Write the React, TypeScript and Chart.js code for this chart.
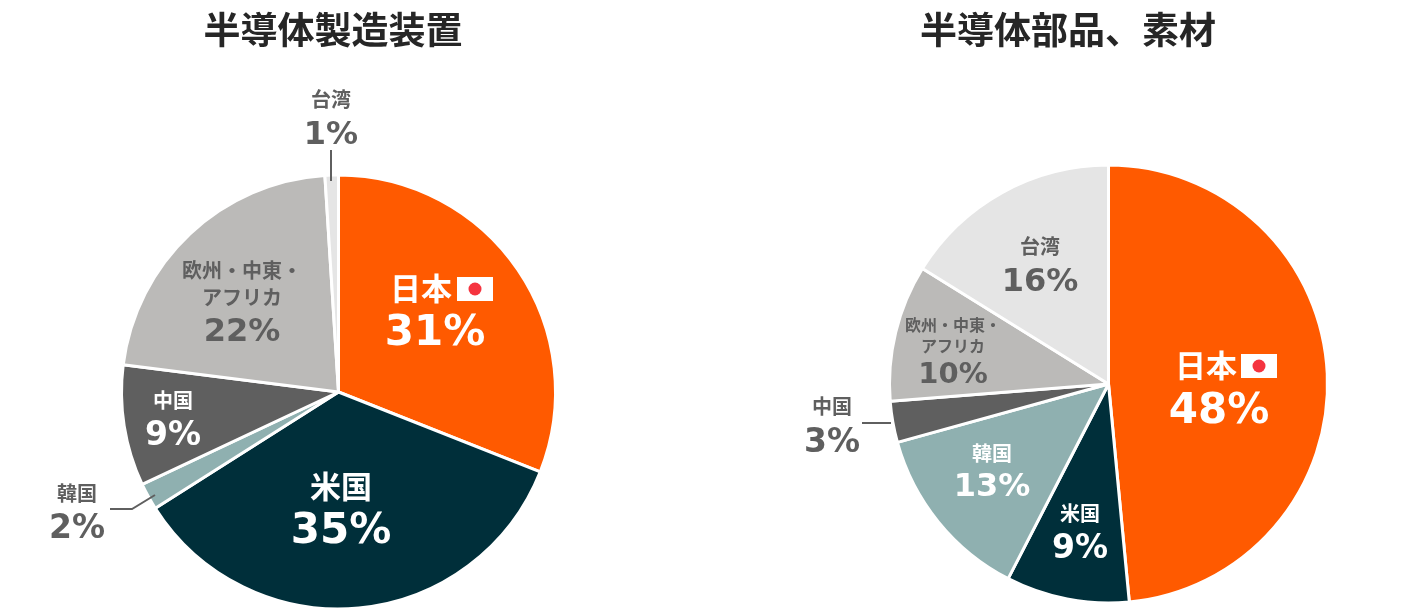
import React, { useEffect, useRef } from "react";
import { Chart, registerables } from "chart.js";

Chart.register(...registerables);

const categories = ["日本", "米国", "韓国", "中国", "欧州・中東・アフリカ", "台湾"];
const equipmentValues = [31, 35, 2, 9, 22, 1];
const materialsValues = [48, 9, 13, 3, 10, 16];
const sliceColors = ["#FF5A00", "#002F3A", "#8FB0B0", "#5F5F5F", "#BBBAB8", "#E5E5E5"];

const WHITE = "#FFFFFF";
const GREY = "#5F5F5F";
const CJK = '"Noto Sans CJK JP"';
const NUM = '"DejaVu Sans"';

type Label = { lines: string[]; cx: number; ys: number[]; size: number; pct: string; py: number; psize: number; color: string; px?: number };

const leftLabels: Label[] = [
  { lines: ["日本"], cx: 421, ys: [288], size: 31, pct: "31%", px: 435, py: 334, psize: 42, color: WHITE },
  { lines: ["米国"], cx: 341, ys: [486], size: 31, pct: "35%", py: 532, psize: 42, color: WHITE },
  { lines: ["中国"], cx: 173, ys: [400], size: 20, pct: "9%", py: 436, psize: 33, color: WHITE },
  { lines: ["韓国"], cx: 77, ys: [493], size: 20, pct: "2%", py: 529, psize: 33, color: GREY },
  { lines: ["欧州・中東・", "アフリカ"], cx: 242, ys: [270, 297], size: 20, pct: "22%", py: 333, psize: 32, color: GREY },
  { lines: ["台湾"], cx: 331, ys: [99], size: 20, pct: "1%", py: 136, psize: 32, color: GREY },
];
const rightLabels: Label[] = [
  { lines: ["日本"], cx: 1206, ys: [365], size: 31, pct: "48%", px: 1219, py: 412, psize: 42, color: WHITE },
  { lines: ["米国"], cx: 1080, ys: [513], size: 20, pct: "9%", py: 549, psize: 33, color: WHITE },
  { lines: ["韓国"], cx: 992, ys: [453], size: 20, pct: "13%", py: 488, psize: 32, color: WHITE },
  { lines: ["中国"], cx: 832, ys: [406], size: 20, pct: "3%", py: 443, psize: 33, color: GREY },
  { lines: ["欧州・中東・", "アフリカ"], cx: 953, ys: [325, 346], size: 16, pct: "10%", py: 375, psize: 29, color: GREY },
  { lines: ["台湾"], cx: 1040, ys: [246], size: 20, pct: "16%", py: 283, psize: 32, color: GREY },
];

type Pie = {
  title: string; titleX: number; values: number[]; labels: Label[]; offset: number; width: number;
  padding: { left: number; right: number; top: number; bottom: number };
  flag: { x: number; y: number };
  leaders: number[][][];
};

const pies: Pie[] = [
  {
    title: "半導体製造装置", titleX: 333, values: equipmentValues, labels: leftLabels, offset: 0, width: 701,
    padding: { left: 120, right: 144, top: 173, bottom: 2 },
    flag: { x: 457, y: 277 },
    leaders: [[[110, 509], [132, 509], [155, 495]], [[331, 150], [331, 181]]],
  },
  {
    title: "半導体部品、素材", titleX: 1068, values: materialsValues, labels: rightLabels, offset: 701, width: 701,
    padding: { left: 187, right: 73, top: 163, bottom: 8 },
    flag: { x: 1241, y: 354 },
    leaders: [[[862, 423], [891, 423]]],
  },
];

function overlay(p: Pie) {
  return {
    id: "overlay",
    afterDatasetsDraw(chart: any) {
      const c: CanvasRenderingContext2D = chart.ctx;
      c.save();
      c.translate(-p.offset, 0);
      c.textAlign = "center";
      c.textBaseline = "middle";
      c.fillStyle = "#262626";
      c.font = `bold 37px ${CJK}`;
      c.fillText(p.title, p.titleX, 30);

      c.strokeStyle = GREY;
      c.lineWidth = 2;
      for (const l of p.leaders) {
        c.beginPath();
        l.forEach(([x, y], i) => (i ? c.lineTo(x, y) : c.moveTo(x, y)));
        c.stroke();
      }

      for (const t of p.labels) {
        c.fillStyle = t.color;
        c.font = `bold ${t.size}px ${CJK}`;
        t.lines.forEach((s, i) => c.fillText(s, t.cx, t.ys[i]));
        c.font = `bold ${t.psize}px ${NUM}`;
        c.fillText(t.pct, t.px ?? t.cx, t.py);
      }

      c.fillStyle = WHITE;
      c.fillRect(p.flag.x, p.flag.y, 36, 24);
      c.fillStyle = "#F5333F";
      c.beginPath();
      c.arc(p.flag.x + 18, p.flag.y + 12, 6.5, 0, Math.PI * 2);
      c.fill();
      c.restore();
    },
  };
}

function PieCanvas({ pie }: { pie: Pie }) {
  const ref = useRef<HTMLCanvasElement>(null);
  useEffect(() => {
    const chart = new Chart(ref.current!, {
      type: "pie",
      data: {
        labels: categories,
        datasets: [{ data: pie.values, backgroundColor: sliceColors, borderColor: WHITE, borderWidth: 3 }],
      },
      options: {
        animation: false,
        responsive: false,
        layout: { padding: pie.padding },
        plugins: { legend: { display: false }, tooltip: { enabled: false } },
      },
      plugins: [overlay(pie)],
    } as any);
    return () => chart.destroy();
  }, [pie]);
  return (
    <canvas
      ref={ref}
      width={pie.width}
      height={613}
      style={{ position: "absolute", left: pie.offset, top: 0, width: pie.width, height: 613, display: "block" }}
    />
  );
}

export default function App() {
  return (
    <div style={{ position: "absolute", left: 0, top: 0, width: 1402, height: 613, background: WHITE, overflow: "hidden" }}>
      {pies.map((p) => (
        <PieCanvas key={p.title} pie={p} />
      ))}
    </div>
  );
}
